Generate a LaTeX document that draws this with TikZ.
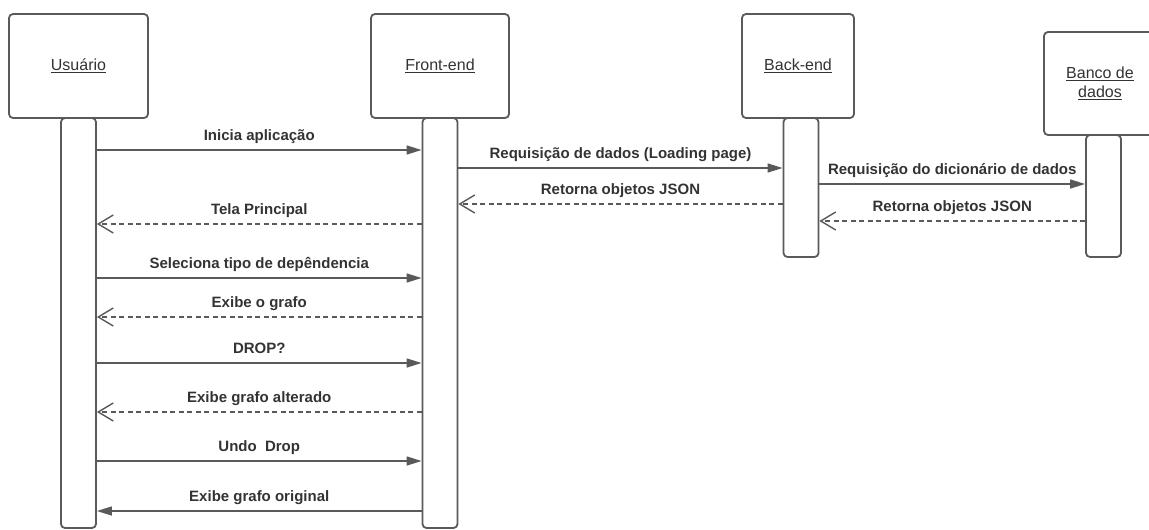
\documentclass[tikz,border=0pt]{standalone}
\usepackage{fontspec}
\setmainfont{Liberation Sans}
\usetikzlibrary{arrows.meta}

\definecolor{linegray}{HTML}{5A5A5A}
\definecolor{textgray}{HTML}{333333}

\begin{document}
\begin{tikzpicture}[x=1pt, y=-1pt,
  actor/.style={draw=linegray, line width=1.8pt, rounded corners=4pt, fill=white,
    text=textgray, font=\fontsize{16}{19}\selectfont, align=center},
  lifebar/.style={draw=linegray, line width=1.8pt, rounded corners=4pt, fill=white,
    minimum width=35pt},
  call/.style={draw=linegray, line width=1.4pt, -{Triangle[length=15pt,width=9pt]}},
  reply/.style={draw=linegray, line width=1.4pt, dash pattern=on 5pt off 3.5pt,
    -{Straight Barb[length=15pt,width=18pt]}},
  msglabel/.style={midway, above=6pt, inner sep=0pt, text depth=3pt, text=textgray,
    font=\fontsize{15}{18}\selectfont\bfseries}]

\useasboundingbox (0,0) rectangle (1149,530);

% Participants
\node[actor, minimum width=139pt, minimum height=104pt] (user) at (78.5,66) {\underline{Usuário}};
\node[actor, minimum width=138pt, minimum height=104pt] (front) at (440,66) {\underline{Front-end}};
\node[actor, minimum width=112pt, minimum height=104pt] (back) at (798,66) {\underline{Back-end}};
\node[actor, minimum width=112pt, minimum height=103pt] (db) at (1100,83.5) {\underline{Banco de}\\\underline{dados}};

% Activation bars
\node[lifebar, minimum height=410pt] (ubar) at (78.5,323) {};
\node[lifebar, minimum height=410pt] (fbar) at (440,323) {};
\node[lifebar, minimum height=139pt] (bbar) at (801,187.5) {};
\node[lifebar, minimum height=122pt] (dbar) at (1103.5,196) {};

% Messages
\foreach \y/\from/\to/\txt/\kind in {
    150/ubar.east/fbar.west/Inicia aplicação/call,
    168/fbar.east/bbar.west/Requisição de dados (Loading page)/call,
    184/bbar.east/dbar.west/Requisição do dicionário de dados/call,
    204/bbar.west/fbar.east/Retorna objetos JSON/reply,
    221/dbar.west/bbar.east/Retorna objetos JSON/reply,
    224/fbar.west/ubar.east/Tela Principal/reply,
    278/ubar.east/fbar.west/Seleciona tipo de depêndencia/call,
    317/fbar.west/ubar.east/Exibe o grafo/reply,
    363/ubar.east/fbar.west/DROP?/call,
    412/fbar.west/ubar.east/Exibe grafo alterado/reply,
    461/ubar.east/fbar.west/Undo~~Drop/call,
    511/fbar.west/ubar.east/Exibe grafo original/call}
    \draw[\kind] (\from |- 0,\y) -- (\to |- 0,\y) node[msglabel] {\txt};

\end{tikzpicture}
\end{document}
